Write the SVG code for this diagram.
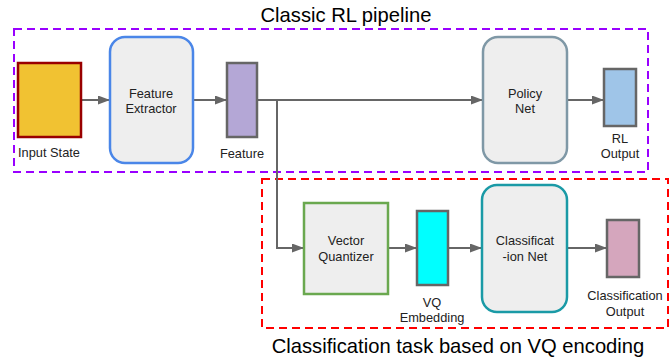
<svg xmlns="http://www.w3.org/2000/svg" width="670" height="358" viewBox="0 0 670 358">
<defs>
<marker id="arr" markerWidth="12" markerHeight="9" refX="12" refY="4.5" orient="auto" markerUnits="userSpaceOnUse">
<path d="M0,0 L12,4.5 L0,9 Z" fill="#666666"/>
</marker>
</defs>
<style>
text{font-family:"Liberation Sans",Arial,sans-serif;fill:#222222;text-anchor:middle}
.lbl{font-size:12.8px}
.title{font-size:20.2px;fill:#000}
.net{fill:#eeeeee;stroke-width:2.5}
.vec{stroke:#666666;stroke-width:2.5}
.conn{fill:none;stroke:#666666;stroke-width:2;marker-end:url(#arr)}
.grp{fill:none;stroke-width:2;stroke-dasharray:8 5}
</style>
<rect class="grp" x="14" y="29" width="634" height="143" stroke="#9900ff"/>
<rect class="grp" x="262" y="179" width="406" height="149" stroke="#ff0000"/>
<text class="title" x="346" y="22">Classic RL pipeline</text>
<text class="title" x="458" y="353">Classification task based on VQ encoding</text>
<g id="connectors">
<path class="conn" d="M81,100 H110"/>
<path class="conn" d="M193,100 H227"/>
<path class="conn" d="M257,100 H483"/>
<path class="conn" d="M277,100 V248 H304"/>
<path class="conn" d="M567,100 H604"/>
<path class="conn" d="M388,248 H417"/>
<path class="conn" d="M448,248 H482"/>
<path class="conn" d="M567,248 H607"/>
</g>
<g id="input-state">
<rect x="18" y="63" width="63" height="74" fill="#f1c232" stroke="#990000" stroke-width="2.5"/>
<text class="lbl" x="49" y="157">Input State</text>
</g>
<g id="feature-extractor">
<rect class="net" x="110" y="37" width="83" height="126" rx="15" stroke="#4a86e8"/>
<text class="lbl" x="151" y="98">Feature</text>
<text class="lbl" x="151" y="113">Extractor</text>
</g>
<g id="feature">
<rect class="vec" x="227" y="63" width="30" height="74" fill="#b4a7d6"/>
<text class="lbl" x="242" y="158">Feature</text>
</g>
<g id="policy-net">
<rect class="net" x="483" y="37" width="84" height="126" rx="15" stroke="#7f98a6"/>
<text class="lbl" x="525" y="98">Policy</text>
<text class="lbl" x="525" y="113">Net</text>
</g>
<g id="rl-output">
<rect class="vec" x="604" y="69" width="32" height="57" fill="#9fc5e8"/>
<text class="lbl" x="620" y="143">RL</text>
<text class="lbl" x="620" y="158">Output</text>
</g>
<g id="vector-quantizer">
<rect class="net" x="304" y="203" width="84" height="91" stroke="#6aa84f"/>
<text class="lbl" x="346" y="245">Vector</text>
<text class="lbl" x="346" y="261">Quantizer</text>
</g>
<g id="vq-embedding">
<rect class="vec" x="417" y="211" width="31" height="74" fill="#00ffff"/>
<text class="lbl" x="432" y="307">VQ</text>
<text class="lbl" x="432" y="322">Embedding</text>
</g>
<g id="classification-net">
<rect class="net" x="482" y="185" width="85" height="127" rx="15" stroke="#1a9aa6"/>
<text class="lbl" x="525" y="245">Classificat</text>
<text class="lbl" x="525" y="261">-ion Net</text>
</g>
<g id="classification-output">
<rect class="vec" x="607" y="220" width="32" height="57" fill="#d5a6bd"/>
<text class="lbl" x="625" y="300">Classification</text>
<text class="lbl" x="625" y="316">Output</text>
</g>
</svg>
